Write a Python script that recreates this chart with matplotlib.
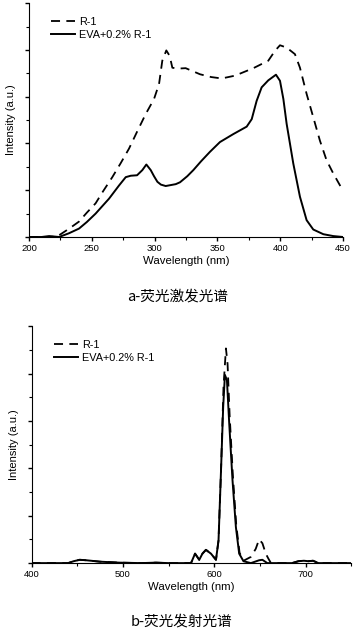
import matplotlib.pyplot as plt
import numpy as np
from matplotlib.ticker import MultipleLocator

plt.rcParams['font.family'] = ['Liberation Sans', 'DejaVu Sans']

# a - excitation spectra
ex_r1_x = [200, 215, 222, 225.2, 232, 239.8, 246, 253, 259, 266.3, 273, 279.6, 286, 292.9,
           299.5, 303.5, 306.1, 309.3, 312, 314.1, 318, 324.7, 336.1, 345, 353.4, 364,
           378.6, 390.5, 395.8, 399.8, 405.1, 411.7, 415.7, 421, 426.3, 431.6, 436.9,
           442.2, 448.9]
ex_r1_y = [0, 0, 0.01, 0.06, 0.18, 0.33, 0.52, 0.72, 0.98, 1.28, 1.58, 1.89, 2.25, 2.63,
           2.95, 3.27, 3.77, 3.99, 3.87, 3.62, 3.6, 3.61, 3.48, 3.42, 3.39, 3.45,
           3.61, 3.77, 3.98, 4.1, 4.05, 3.91, 3.62, 3.06, 2.56, 2.06, 1.64,
           1.36, 1.04]
ex_eva_x = [200, 210, 216, 220, 223.9, 231.8, 239.8, 246, 253, 258, 263.7, 271.6, 277, 281,
            286, 290.2, 293.4, 296.9, 299.5, 302.2, 305, 308.8, 316.8, 320.2, 326, 330.8,
            337, 344, 352, 362.6, 373.3, 377.3, 381.2, 385.2, 390.5, 396.6, 399.8, 402.5,
            405.1, 410.4, 415.7, 421, 426.3, 434.3, 442.2, 450]
ex_eva_y = [0, 0, 0.02, 0.01, 0.0, 0.08, 0.18, 0.32, 0.5, 0.65, 0.82, 1.1, 1.28, 1.31,
            1.32, 1.43, 1.55, 1.43, 1.3, 1.18, 1.12, 1.09, 1.13, 1.17, 1.3, 1.43,
            1.62, 1.82, 2.03, 2.2, 2.36, 2.52, 2.91, 3.2, 3.35, 3.47, 3.34, 2.95,
            2.42, 1.57, 0.86, 0.36, 0.16, 0.06, 0.02, 0]

# b - emission spectra
em_eva_x = [400, 440, 446, 452.7, 460, 475, 496, 520, 536, 550, 574.5, 578.9, 583.5, 587,
            590.8, 596.3, 601.8, 604.6, 607.2, 609.7, 611.6, 613.8, 616.3, 619.9, 623.6,
            627.2, 631.9, 640, 649, 652.6, 658, 685, 692, 698, 703, 708, 714, 750]
em_eva_y = [0, 0, 0.04, 0.07, 0.06, 0.03, 0.01, 0.0, 0.01, 0.0, 0.0, 0.2, 0.07, 0.2,
            0.28, 0.2, 0.07, 0.48, 1.89, 3.3, 3.97, 3.86, 2.95, 1.75, 0.76,
            0.2, 0.04, 0.0, 0.06, 0.07, 0.0, 0.0, 0.04, 0.05, 0.04, 0.05, 0.0, 0]
em_r1_x = [400, 440, 446, 452.7, 460, 475, 496, 520, 536, 550, 574.5, 578.9, 583.5, 587,
           590.8, 596.3, 601.8, 604.6, 607.4, 610, 612.7, 614.5, 616.8, 620.3, 624,
           627.6, 632, 639.9, 645.3, 649, 652.6, 656.3, 659, 662, 685, 692, 698, 703,
           708, 714, 750]
em_r1_y = [0, 0, 0.04, 0.07, 0.06, 0.03, 0.01, 0.0, 0.01, 0.0, 0.0, 0.2, 0.07, 0.2,
           0.28, 0.2, 0.07, 0.48, 2.0, 3.7, 4.53, 4.2, 3.1, 1.85, 0.8,
           0.22, 0.05, 0.13, 0.3, 0.5, 0.42, 0.2, 0.1, 0.0, 0.0, 0.04, 0.05, 0.04,
           0.05, 0.0, 0]


def style_axes(ax, xlim, xmajor, xminor):
    ax.set_xlim(*xlim)
    ax.set_ylim(0, 5)
    ax.spines['top'].set_visible(False)
    ax.spines['right'].set_visible(False)
    ax.xaxis.set_major_locator(MultipleLocator(xmajor))
    ax.xaxis.set_minor_locator(MultipleLocator(xminor))
    ax.yaxis.set_major_locator(MultipleLocator(1))
    ax.yaxis.set_minor_locator(MultipleLocator(0.5))
    ax.set_yticklabels([])
    ax.tick_params(axis='both', which='major', length=3, width=1, labelsize=6.8, pad=2)
    ax.tick_params(axis='both', which='minor', length=2, width=0.8)
    ax.set_xlabel('Wavelength (nm)', fontsize=8.2, labelpad=2)
    ax.set_ylabel('Intensity (a.u.)', fontsize=8, labelpad=4)
    ax.legend(loc='upper left', frameon=False, fontsize=7.8, handlelength=2.2,
              handletextpad=0.4, borderaxespad=0.2, labelspacing=0.3,
              bbox_to_anchor=(0.05, 0.97))


fig = plt.figure(figsize=(3.63, 6.32), dpi=100)

ax1 = fig.add_axes([0.08, 0.625, 0.865, 0.37])
ax1.plot(ex_r1_x, ex_r1_y, 'k--', lw=1.3, dashes=(5, 3.5), label='R-1')
ax1.plot(ex_eva_x, ex_eva_y, 'k-', lw=1.4, label='EVA+0.2% R-1')
style_axes(ax1, (200, 450), 50, 25)

ax2 = fig.add_axes([0.087, 0.109, 0.881, 0.375])
ax2.plot(em_r1_x, em_r1_y, 'k--', lw=1.3, dashes=(5, 3.5), label='R-1')
ax2.plot(em_eva_x, em_eva_y, 'k-', lw=1.4, label='EVA+0.2% R-1')
style_axes(ax2, (400, 750), 100, 50)

cjk = ['Noto Sans CJK SC', 'DejaVu Sans']
fig.text(0.49, 1 - 297 / 632, 'a-荧光激发光谱', ha='center', va='center', fontsize=10.5, family=cjk)
fig.text(0.5, 1 - 302 / 632 - 320 / 632, 'b-荧光发射光谱', ha='center', va='center', fontsize=10.5, family=cjk)

fig.savefig('out.png', dpi=100)
